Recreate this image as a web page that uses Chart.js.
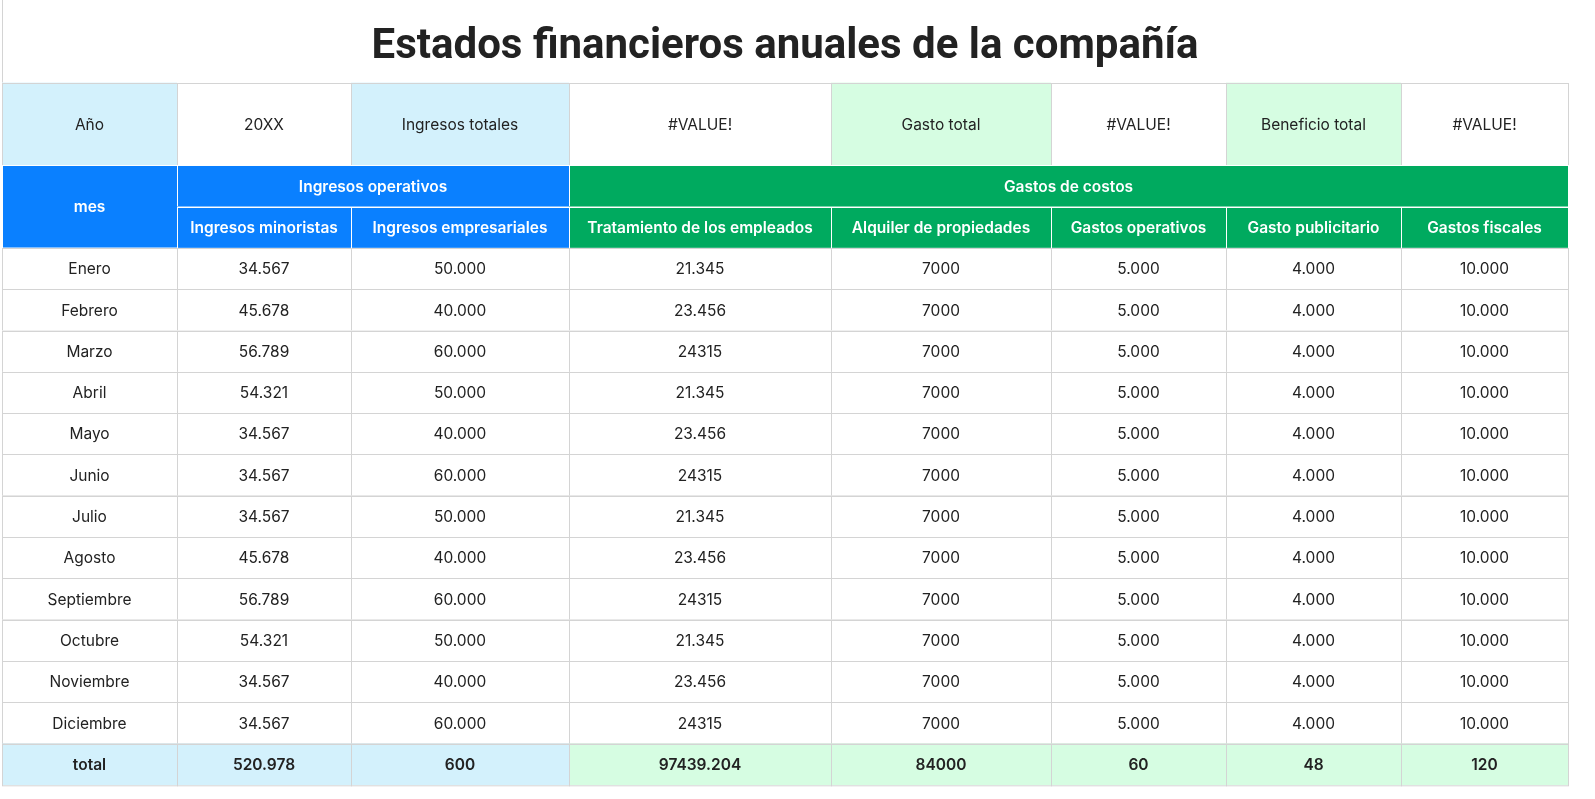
<!DOCTYPE html>
<html><head><meta charset="utf-8">
<script src="https://cdn.jsdelivr.net/npm/chart.js@4/dist/chart.umd.min.js"></script>
<style>html,body{margin:0;padding:0;background:#fff;overflow:hidden}#wrap{position:absolute;left:0;top:0;width:1595px;height:799px}</style>
</head><body><div id="wrap"><canvas id="c"></canvas></div>
<script>
const title = "Estados financieros anuales de la compañía";
const infoRow = ["Año","20XX","Ingresos totales","#VALUE!","Gasto total","#VALUE!","Beneficio total","#VALUE!"];
const groupIngresos = "Ingresos operativos";
const groupGastos = "Gastos de costos";
const monthHeader = "mes";
const columns = ["Ingresos minoristas","Ingresos empresariales","Tratamiento de los empleados","Alquiler de propiedades","Gastos operativos","Gasto publicitario","Gastos fiscales"];
const months = ["Enero","Febrero","Marzo","Abril","Mayo","Junio","Julio","Agosto","Septiembre","Octubre","Noviembre","Diciembre"];
const retail = ["34.567","45.678","56.789","54.321","34.567","34.567","34.567","45.678","56.789","54.321","34.567","34.567"];
const business = ["50.000","40.000","60.000","50.000","40.000","60.000","50.000","40.000","60.000","50.000","40.000","60.000"];
const employees = ["21.345","23.456","24315","21.345","23.456","24315","21.345","23.456","24315","21.345","23.456","24315"];
const rent = ["7000","7000","7000","7000","7000","7000","7000","7000","7000","7000","7000","7000"];
const operating = ["5.000","5.000","5.000","5.000","5.000","5.000","5.000","5.000","5.000","5.000","5.000","5.000"];
const advertising = ["4.000","4.000","4.000","4.000","4.000","4.000","4.000","4.000","4.000","4.000","4.000","4.000"];
const tax = ["10.000","10.000","10.000","10.000","10.000","10.000","10.000","10.000","10.000","10.000","10.000","10.000"];
const totals = ["total","520.978","600","97439.204","84000","60","48","120"];

// layout (style, not data)
const colWidths = [175,174,218,262,220,175,175,167];
const LB="#d3f1fc", BLUE="#0a80ff", GREEN="#00aa5f", LG="#d6fde2", GRID="#d4d4d4";
const FONT="Inter, 'Noto Sans', sans-serif";

const edges=[0]; colWidths.forEach(w=>edges.push(edges[edges.length-1]+w));
const seriesCols=[retail,business,employees,rent,operating,advertising,tax];

const tablePlugin={id:'table',afterDraw(chart){
  const {ctx,scales:{x,y}}=chart;
  const X=v=>x.getPixelForValue(v), Y=v=>y.getPixelForValue(v);
  function cell(c0,c1,r0,r1,fill,text,color,bold,size){
    const l=X(edges[c0]),r=X(edges[c1]),t=Y(r0),b=Y(r1);
    if(fill){ctx.fillStyle=fill;ctx.fillRect(l,t,r-l,b-t);}
    ctx.strokeStyle=fill===BLUE||fill===GREEN?"#ffffff":GRID;ctx.lineWidth=1;
    ctx.strokeRect(Math.round(l)+0.5,Math.round(t)+0.5,r-l,b-t);
    if(text!==undefined){ctx.fillStyle=color||"#222";ctx.font=(bold?"600 ":"400 ")+(size||15.5)+"px "+FONT;
      ctx.textAlign="center";ctx.textBaseline="middle";ctx.fillText(text,(l+r)/2,(t+b)/2+1);}
  }
  ctx.save();
  ctx.fillStyle="#222";ctx.font="700 42px Roboto, sans-serif";ctx.textAlign="center";ctx.textBaseline="middle";
  ctx.fillText(title,(X(0)+X(edges[8]))/2,Y(1.15));
  ctx.strokeStyle=GRID;ctx.beginPath();ctx.moveTo(X(0)+0.5,Y(0));ctx.lineTo(X(0)+0.5,Y(2));ctx.stroke();
  const infoFill=[LB,"#fff",LB,"#fff",LG,"#fff",LG,"#fff"];
  infoRow.forEach((t,i)=>cell(i,i+1,2,4,infoFill[i],t,"#222",false));
  cell(0,1,4,6,BLUE,monthHeader,"#fff",true);
  cell(1,3,4,5,BLUE,groupIngresos,"#fff",true);
  cell(3,8,4,5,GREEN,groupGastos,"#fff",true);
  columns.forEach((t,i)=>cell(i+1,i+2,5,6,i<2?BLUE:GREEN,t,"#fff",true));
  months.forEach((m,r)=>{
    cell(0,1,6+r,7+r,"#fff",m,"#222",false);
    seriesCols.forEach((s,i)=>cell(i+1,i+2,6+r,7+r,"#fff",s[r],"#222",false));
  });
  totals.forEach((t,i)=>cell(i,i+1,18,19,i<3?LB:LG,t,"#222",true));
  ctx.restore();
}};

new Chart(document.getElementById('c'),{
  type:'scatter',
  data:{datasets:[{data:[],pointRadius:0}]},
  options:{responsive:true,maintainAspectRatio:false,animation:false,
    layout:{padding:{left:2,right:27,top:0,bottom:14}},
    plugins:{legend:{display:false},tooltip:{enabled:false}},
    scales:{x:{type:'linear',min:0,max:edges[8],display:false},
            y:{type:'linear',min:0,max:19,reverse:true,display:false}}},
  plugins:[tablePlugin]
});
</script></body></html>
